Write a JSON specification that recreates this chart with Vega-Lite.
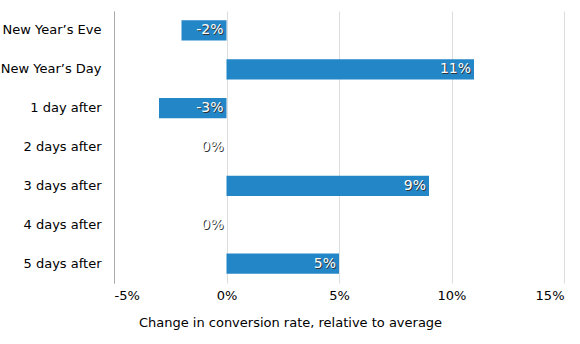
{
  "$schema": "https://vega.github.io/schema/vega-lite/v6.json",
  "width": 450,
  "height": 272,
  "autosize": {"type": "none"},
  "padding": {"left": 114, "top": 11, "right": 16, "bottom": 61},
  "config": {
    "view": {"stroke": null},
    "font": "DejaVu Sans",
    "axis": {"labelFont": "DejaVu Sans", "titleFont": "DejaVu Sans", "labelColor": "#000", "titleColor": "#000", "labelFontSize": 13, "titleFontSize": 13, "titleFontWeight": "normal"}
  },
  "data": {
    "values": [
      {"day": "New Year’s Eve", "value": -2, "label": "-2%"},
      {"day": "New Year’s Day", "value": 11, "label": "11%"},
      {"day": "1 day after", "value": -3, "label": "-3%"},
      {"day": "2 days after", "value": 0, "label": "0%"},
      {"day": "3 days after", "value": 9, "label": "9%"},
      {"day": "4 days after", "value": 0, "label": "0%"},
      {"day": "5 days after", "value": 5, "label": "5%"}
    ]
  },
  "encoding": {
    "y": {
      "field": "day", "type": "nominal", "sort": null,
      "scale": {"paddingInner": 0.48, "paddingOuter": 0.24},
      "axis": {"title": null, "ticks": false, "domain": true, "domainColor": "#aaa", "labelPadding": 13, "grid": false}
    },
    "x": {
      "field": "value", "type": "quantitative",
      "scale": {"domain": [-5, 15], "nice": false, "zero": false},
      "axis": {"values": [-5, 0, 5, 10, 15], "labelExpr": "datum.value + '%'", "title": "Change in conversion rate, relative to average", "titleX": 176, "titleAnchor": "start", "titleAlign": "center", "grid": true, "gridColor": "#ddd", "domain": false, "ticks": false, "labelPadding": 6, "titlePadding": 14}
    }
  },
  "layer": [
    {"mark": {"type": "bar", "fill": "#2286c7"}},
    {
      "transform": [{"calculate": "max(datum.value, 0)", "as": "labelPos"}],
      "layer": [
        {"mark": {"type": "text", "align": "right", "baseline": "middle", "dx": -2, "dy": 1, "fill": "#333", "fontSize": 14, "font": "DejaVu Sans"}, "encoding": {"x": {"field": "labelPos", "type": "quantitative"}, "text": {"field": "label"}}},
        {"mark": {"type": "text", "align": "right", "baseline": "middle", "dx": -3, "dy": 0, "fill": "#fff", "fontSize": 14, "font": "DejaVu Sans"}, "encoding": {"x": {"field": "labelPos", "type": "quantitative"}, "text": {"field": "label"}}}
      ]
    }
  ]
}
